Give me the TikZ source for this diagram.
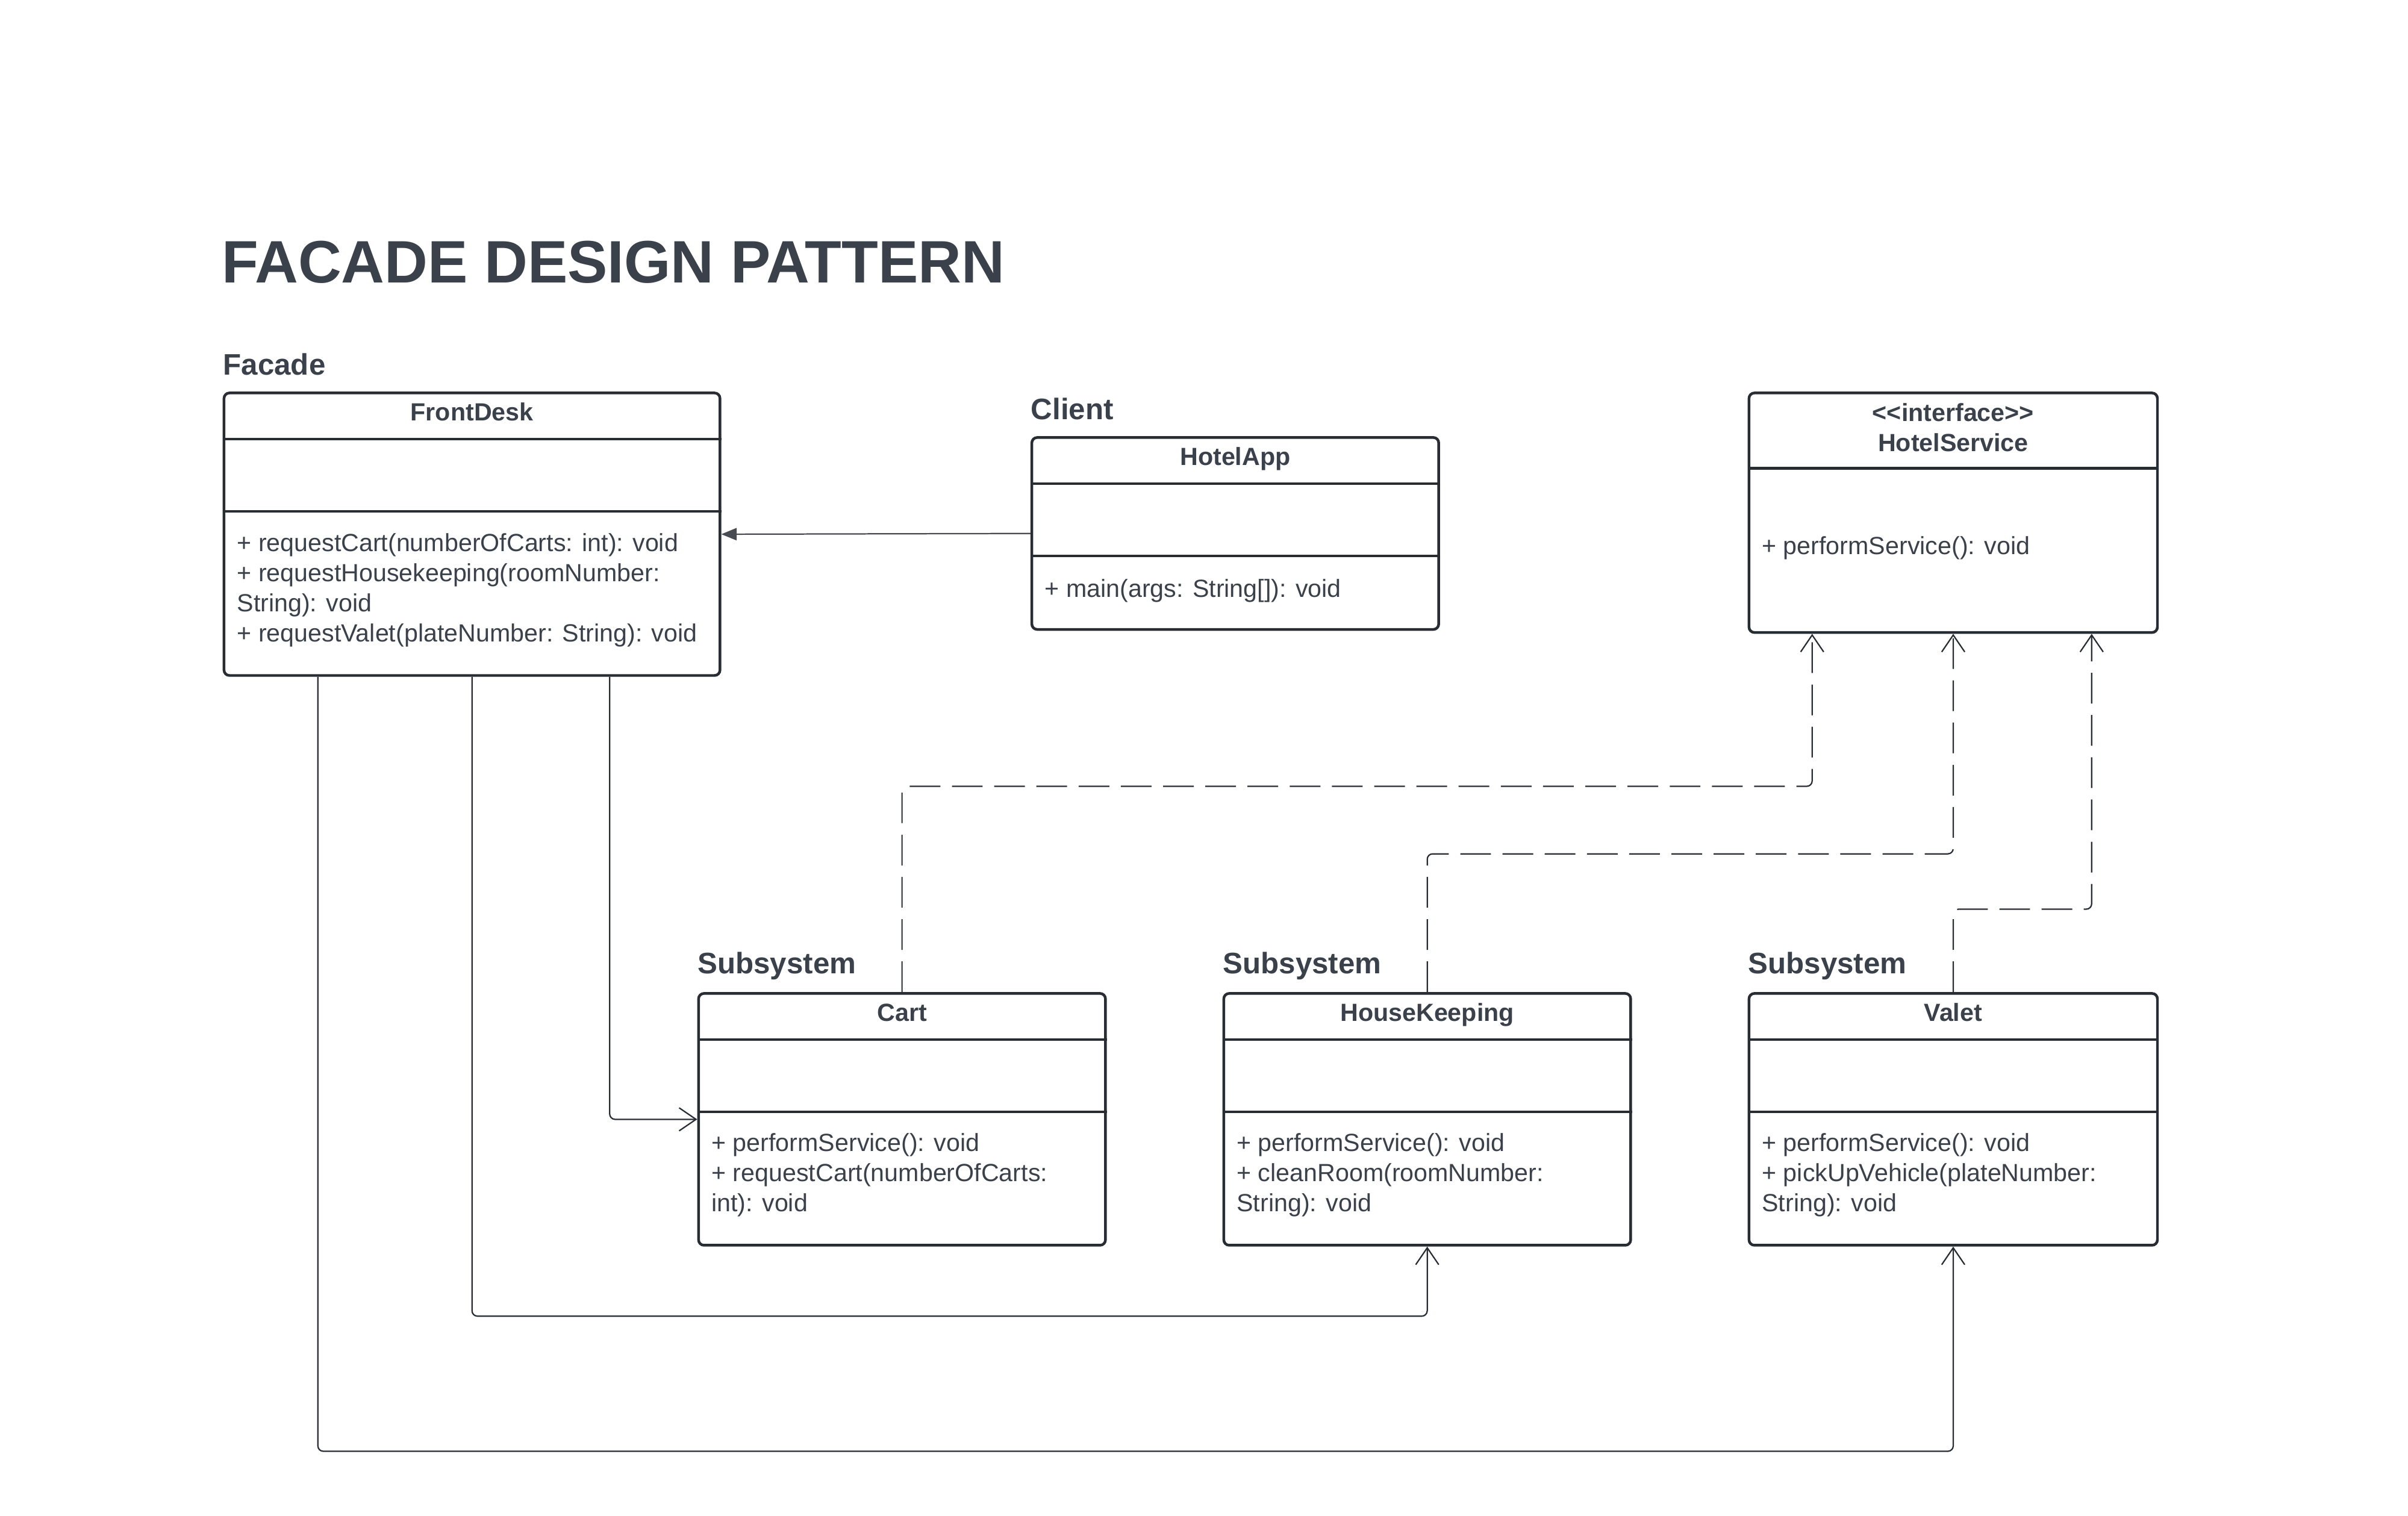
\documentclass[tikz,border=0pt]{standalone}
\usepackage{fontspec}
\setmainfont{Liberation Sans}
\usetikzlibrary{arrows.meta}
\definecolor{ink}{HTML}{3A414A}
\definecolor{edge}{HTML}{282C33}
\tikzset{
  umlbox/.style={draw=edge, line width=1pt, rounded corners=2pt, inner sep=0pt, anchor=north west},
  divider/.style={draw=edge, line width=1pt},
  classname/.style={font=\fontsize{9.2}{11.2}\selectfont\bfseries, text=ink, anchor=base, align=center, inner sep=0pt},
  members/.style={font=\fontsize{9.2}{11.2}\selectfont, text=ink, anchor=base west, align=left, inner sep=0pt},
  grouplabel/.style={font=\fontsize{11}{13}\selectfont\bfseries, text=ink, anchor=base west, inner sep=0pt},
  assoc/.style={draw=edge, line width=0.5pt, rounded corners=2pt, -{Straight Barb[length=0.22cm,width=0.3cm]}},
  realize/.style={assoc, dash pattern=on 0.4cm off 0.15cm},
  uses/.style={draw=edge!85, line width=0.5pt, -{Triangle[length=0.2cm,width=0.16cm]}}
}
\begin{document}
\begin{tikzpicture}[x=0.02cm,y=-0.02cm]
  \useasboundingbox (0,0) rectangle (1568,987);
  \node[anchor=base west, font=\fontsize{22.2}{26}\selectfont\bfseries, text=ink, inner sep=0pt] (title) at (144,184) {FACADE DESIGN PATTERN};

  \node[grouplabel] (facadelbl) at (145,244) {Facade};
  \node[grouplabel] (clientlbl) at (671,273) {Client};
  \node[grouplabel] (sublbla) at (454,634) {Subsystem};
  \node[grouplabel] (sublblb) at (796,634) {Subsystem};
  \node[grouplabel] (sublblc) at (1138,634) {Subsystem};

  \node[umlbox, minimum width=6.46cm, minimum height=3.68cm] (desk) at (145,255) {};
  \draw[divider] (desk.west |- 0,286) -- (desk.east |- 0,286);
  \draw[divider] (desk.west |- 0,333) -- (desk.east |- 0,333);
  \node[classname] (deskname) at (desk.north |- 0,274) {FrontDesk};
  \node[members] (deskops) at (154,418) {+ requestCart(numberOfCarts: int): void\\+ requestHousekeeping(roomNumber:\\String): void\\+ requestValet(plateNumber: String): void};

  \node[umlbox, minimum width=5.3cm, minimum height=2.5cm] (app) at (671,284) {};
  \draw[divider] (app.west |- 0,315) -- (app.east |- 0,315);
  \draw[divider] (app.west |- 0,362) -- (app.east |- 0,362);
  \node[classname] (appname) at (app.north |- 0,303) {HotelApp};
  \node[members] (appops) at (680,389) {+ main(args: String[]): void};

  \node[umlbox, minimum width=5.32cm, minimum height=3.12cm] (serv) at (1138,255) {};
  \draw[divider] (serv.west |- 0,305) -- (serv.east |- 0,305);
  \node[classname] (servname) at (serv.north |- 0,294) {\textless\kern0pt\textless interface\textgreater\kern0pt\textgreater\\HotelService};
  \node[members] (servops) at (1147,361) {+ performService(): void};

  \node[umlbox, minimum width=5.3cm, minimum height=3.28cm] (cart) at (454,646) {};
  \draw[divider] (cart.west |- 0,677) -- (cart.east |- 0,677);
  \draw[divider] (cart.west |- 0,724) -- (cart.east |- 0,724);
  \node[classname] (cartname) at (cart.north |- 0,665) {Cart};
  \node[members] (cartops) at (463,789) {+ performService(): void\\+ requestCart(numberOfCarts:\\int): void};

  \node[umlbox, minimum width=5.3cm, minimum height=3.28cm] (keep) at (796,646) {};
  \draw[divider] (keep.west |- 0,677) -- (keep.east |- 0,677);
  \draw[divider] (keep.west |- 0,724) -- (keep.east |- 0,724);
  \node[classname] (keepname) at (keep.north |- 0,665) {HouseKeeping};
  \node[members] (keepops) at (805,789) {+ performService(): void\\+ cleanRoom(roomNumber:\\String): void};

  \node[umlbox, minimum width=5.32cm, minimum height=3.28cm] (valet) at (1138,646) {};
  \draw[divider] (valet.west |- 0,677) -- (valet.east |- 0,677);
  \draw[divider] (valet.west |- 0,724) -- (valet.east |- 0,724);
  \node[classname] (valetname) at (valet.north |- 0,665) {Valet};
  \node[members] (valetops) at (1147,789) {+ performService(): void\\+ pickUpVehicle(plateNumber:\\String): void};

  \begin{scope}
    \draw[uses] (app.west) -- (desk.east);
    \draw[assoc] (desk.south -| 397,0) |- (cart.west);
    \draw[assoc] (desk.south) -- (desk.south |- 0,857) -| (keep.south);
    \draw[assoc] (desk.south -| 207,0) -- (207,945) -| (valet.south);
    \draw[realize] (cart.north) -- (cart.north |- 0,512) -| (serv.south -| 1180,0);
    \draw[realize] (keep.north) -- (keep.north |- 0,556) -| (serv.south);
    \draw[realize] (valet.north) -- (valet.north |- 0,592) -| (serv.south -| 1362,0);
  \end{scope}
\end{tikzpicture}
\end{document}
